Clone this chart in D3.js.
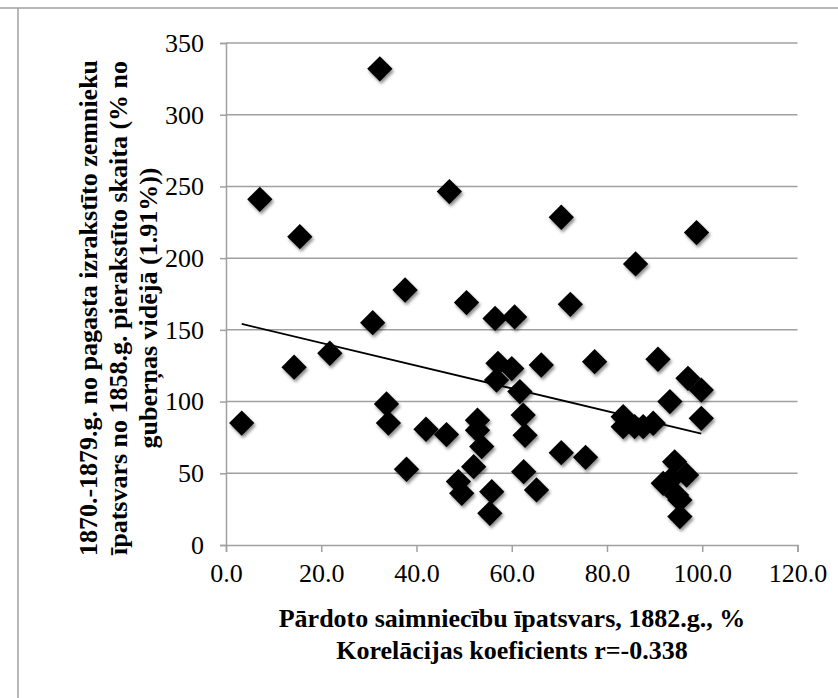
<!DOCTYPE html>
<html>
<head>
<meta charset="utf-8">
<script src="https://cdn.jsdelivr.net/npm/d3@7"></script>
<style>
  html, body { margin: 0; padding: 0; background: #fff; }
  svg { display: block; }
  text { font-family: "Liberation Serif", "DejaVu Serif", serif; }
</style>
</head>
<body>
<svg id="chart" width="838" height="698"></svg>
<script>
// ---- data ----
const soldShare = [32.3, 7.1, 15.5, 46.9, 70.4, 86.0, 98.8, 37.6, 50.5, 56.5, 60.6, 30.8, 21.8, 14.3, 3.3,
  33.7, 34.1, 42.0, 46.3, 37.9, 52.8, 52.8, 53.7, 52.0, 48.8, 49.5, 55.8, 55.4, 57.1, 56.8,
  60.0, 61.7, 66.2, 62.4, 62.8, 72.3, 77.4, 90.7, 93.2, 97.0, 99.8, 99.8, 83.4, 83.4, 85.8,
  87.6, 89.7, 70.4, 75.5, 62.5, 65.2, 94.2, 91.8, 96.7, 94.6, 95.3, 93.5, 95.3];
const emigration = [332, 241, 215, 246.4, 228.5, 196, 217.8, 177.8, 169, 158, 159, 155, 133.7, 124, 85,
  98.3, 85, 80.7, 77, 52.8, 87, 80, 68.6, 54.6, 44.2, 36, 37.2, 22.1, 126.7, 115,
  123, 107, 125.5, 90.6, 76.5, 167.8, 127.8, 129.5, 100, 116.2, 108, 88.3, 89.5, 82.5, 82.5,
  82.5, 84.9, 64.4, 61.1, 51.1, 38.4, 58, 43, 48.8, 34.9, 19.8, 46, 31.4];
const xTicks = [0, 20, 40, 60, 80, 100, 120];
const yTicks = [0, 50, 100, 150, 200, 250, 300, 350];
const xTitle = ["Pārdoto saimniecību īpatsvars, 1882.g., %", "Korelācijas koeficients r=-0.338"];
const yTitle = ["1870.-1879.g. no pagasta izrakstīto zemnieku",
  "īpatsvars no 1858.g. pierakstīto skaita (% no",
  "guberņas vidējā (1.91%))"];

const points = soldShare.map((x, i) => ({x, y: emigration[i]}));

const svg = d3.select("#chart");
const font = "Liberation Serif, DejaVu Serif, serif";
const fs = 26;

// outer frame (cropped)
svg.append("line").attr("x1", 0).attr("x2", 838).attr("y1", 8).attr("y2", 8)
  .attr("stroke", "#a0a0a0").attr("stroke-width", 1.5);
svg.append("line").attr("x1", 18).attr("x2", 18).attr("y1", 8).attr("y2", 698)
  .attr("stroke", "#a0a0a0").attr("stroke-width", 1.5);

const x = d3.scaleLinear().domain([0, 120]).range([226, 797.5]);
const y = d3.scaleLinear().domain([0, 350]).range([545, 43]);

const defs = svg.append("defs");
const f = defs.append("filter").attr("id", "sh").attr("x", "-50%").attr("y", "-50%")
  .attr("width", "200%").attr("height", "200%");
f.append("feDropShadow").attr("dx", 1.5).attr("dy", 2.5).attr("stdDeviation", 1.8)
  .attr("flood-color", "#000").attr("flood-opacity", 0.45);

// gridlines
svg.append("g").selectAll("line").data(yTicks.filter(d => d > 0)).join("line")
  .attr("x1", x(0)).attr("x2", x(120))
  .attr("y1", d => y(d)).attr("y2", d => y(d))
  .attr("stroke", "#a0a0a0").attr("stroke-width", 1.5);

// y axis
const yAxis = svg.append("g").attr("transform", `translate(${x(0)},0)`)
  .call(d3.axisLeft(y).tickValues(yTicks).tickSize(6).tickPadding(16).tickFormat(d3.format("d")));
// x axis
const xAxis = svg.append("g").attr("transform", `translate(0,${y(0)})`)
  .call(d3.axisBottom(x).tickValues(xTicks).tickSize(7).tickPadding(12).tickFormat(d3.format(".1f")));

[yAxis, xAxis].forEach(a => {
  a.attr("font-family", font).attr("font-size", fs);
  a.select(".domain").attr("stroke", "#a0a0a0").attr("stroke-width", 1.5);
  a.selectAll(".tick line").attr("stroke", "#a0a0a0").attr("stroke-width", 1.5);
  a.selectAll(".tick text").attr("fill", "#000").attr("font-family", font).attr("font-size", fs);
});

// trend line (least squares)
const mx = d3.mean(points, d => d.x), my = d3.mean(points, d => d.y);
const slope = d3.sum(points, d => (d.x - mx) * (d.y - my)) / d3.sum(points, d => (d.x - mx) ** 2);
const icpt = my - slope * mx;
const [xmin, xmax] = d3.extent(points, d => d.x);
svg.append("line")
  .attr("x1", x(xmin)).attr("y1", y(icpt + slope * xmin))
  .attr("x2", x(xmax)).attr("y2", y(icpt + slope * xmax))
  .attr("stroke", "#000").attr("stroke-width", 1.8);

// markers
const diamond = d3.symbol().type(d3.symbolSquare).size(320);
svg.append("g").attr("filter", "url(#sh)").selectAll("path").data(points).join("path")
  .attr("d", diamond)
  .attr("transform", d => `translate(${x(d.x)},${y(d.y)}) rotate(45)`)
  .attr("fill", "#000");

// x title
svg.append("g").selectAll("text").data(xTitle).join("text")
  .attr("x", 512).attr("y", (d, i) => 627 + i * 32)
  .attr("text-anchor", "middle")
  .attr("font-family", font).attr("font-size", fs).attr("font-weight", "bold")
  .text(d => d);

// y title
svg.append("g").attr("transform", "translate(0,308) rotate(-90)")
  .selectAll("text").data(yTitle).join("text")
  .attr("x", 0).attr("y", (d, i) => 97 + i * 30)
  .attr("text-anchor", "middle")
  .attr("font-family", font).attr("font-size", fs).attr("font-weight", "bold")
  .text(d => d);
</script>
</body>
</html>
